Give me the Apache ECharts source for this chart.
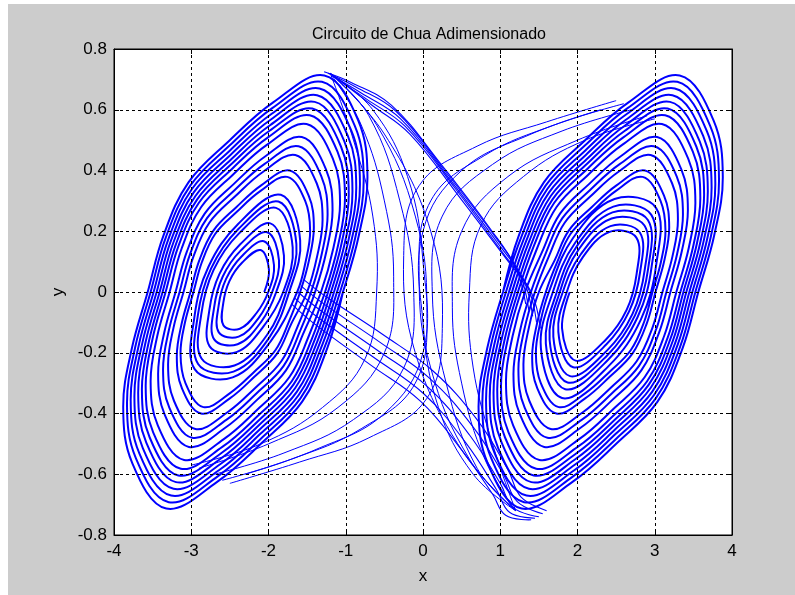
<!DOCTYPE html>
<html>
<head>
<meta charset="utf-8">
<script src="https://cdn.jsdelivr.net/npm/echarts@6/dist/echarts.min.js"></script>
<style>
html,body{margin:0;padding:0;background:#ffffff;}
#chart{width:795px;height:595px;}
</style>
</head>
<body>
<div id="chart"></div>
<script>
// ---- data ----
const titleText = 'Circuito de Chua Adimensionado';
const xRange = [-4, 4, 1];
const yRange = [-0.8, 0.8, 0.2];

// left scroll: successive turns of the spiral, inner to outer (x, y)
const leftLoops = [
 [[-2.055,0],[-1.994,0.073],[-2.102,0.138],[-2.340,0.097],[-2.506,0.036],[-2.585,-0.036],[-2.583,-0.110],[-2.371,-0.121],[-2.157,-0.070]],
 [[-2.003,0],[-1.929,0.089],[-2.060,0.167],[-2.349,0.117],[-2.549,0.043],[-2.645,-0.044],[-2.643,-0.133],[-2.386,-0.147],[-2.127,-0.085]],
 [[-1.952,0],[-1.864,0.104],[-2.018,0.197],[-2.357,0.137],[-2.592,0.051],[-2.705,-0.052],[-2.703,-0.156],[-2.400,-0.172],[-2.097,-0.099]],
 [[-1.900,0],[-1.800,0.120],[-1.976,0.226],[-2.366,0.157],[-2.636,0.059],[-2.765,-0.059],[-2.762,-0.179],[-2.415,-0.198],[-2.067,-0.114]],
 [[-1.810,0],[-1.687,0.147],[-1.903,0.277],[-2.381,0.193],[-2.712,0.072],[-2.870,-0.073],[-2.867,-0.219],[-2.441,-0.242],[-2.015,-0.140]],
 [[-1.771,0],[-1.639,0.158],[-1.872,0.298],[-2.387,0.208],[-2.744,0.077],[-2.915,-0.078],[-2.911,-0.237],[-2.453,-0.262],[-1.992,-0.151]],
 [[-1.732,0],[-1.590,0.170],[-1.841,0.320],[-2.393,0.224],[-2.777,0.083],[-2.960,-0.084],[-2.956,-0.254],[-2.464,-0.281],[-1.970,-0.162]],
 [[-1.629,0],[-1.520,0.099],[-1.461,0.201],[-1.525,0.300],[-1.757,0.379],[-2.107,0.332],[-2.410,0.264],[-2.691,0.191],[-2.863,0.098],[-2.971,0],[-3.080,-0.099],[-3.139,-0.201],[-3.075,-0.300],[-2.843,-0.379],[-2.493,-0.332],[-2.190,-0.264],[-1.909,-0.191],[-1.737,-0.098]],
 [[-1.590,0],[-1.475,0.105],[-1.413,0.212],[-1.480,0.317],[-1.726,0.400],[-2.095,0.351],[-2.417,0.279],[-2.713,0.202],[-2.896,0.104],[-3.010,0],[-3.125,-0.105],[-3.187,-0.212],[-3.120,-0.317],[-2.874,-0.400],[-2.505,-0.351],[-2.183,-0.279],[-1.887,-0.202],[-1.704,-0.104]],
 [[-1.500,0],[-1.370,0.118],[-1.300,0.239],[-1.376,0.358],[-1.653,0.451],[-2.069,0.396],[-2.431,0.315],[-2.766,0.228],[-2.971,0.117],[-3.100,0],[-3.230,-0.118],[-3.300,-0.239],[-3.224,-0.358],[-2.947,-0.451],[-2.531,-0.396],[-2.169,-0.315],[-1.834,-0.228],[-1.629,-0.117]],
 [[-1.449,0],[-1.310,0.126],[-1.235,0.255],[-1.316,0.381],[-1.611,0.480],[-2.054,0.421],[-2.440,0.335],[-2.796,0.243],[-3.015,0.125],[-3.151,0],[-3.290,-0.126],[-3.365,-0.255],[-3.284,-0.381],[-2.989,-0.480],[-2.546,-0.421],[-2.160,-0.335],[-1.804,-0.243],[-1.585,-0.125]],
 [[-1.397,0],[-1.250,0.134],[-1.171,0.270],[-1.256,0.404],[-1.569,0.510],[-2.040,0.447],[-2.448,0.356],[-2.826,0.258],[-3.058,0.132],[-3.203,0],[-3.350,-0.134],[-3.429,-0.270],[-3.344,-0.404],[-3.031,-0.510],[-2.560,-0.447],[-2.152,-0.356],[-1.774,-0.258],[-1.542,-0.132]],
 [[-1.320,0],[-1.160,0.145],[-1.074,0.293],[-1.167,0.439],[-1.507,0.553],[-2.017,0.485],[-2.461,0.386],[-2.871,0.280],[-3.123,0.144],[-3.280,0],[-3.440,-0.145],[-3.526,-0.293],[-3.433,-0.439],[-3.093,-0.553],[-2.583,-0.485],[-2.139,-0.386],[-1.729,-0.280],[-1.477,-0.144]],
 [[-1.268,0],[-1.100,0.153],[-1.010,0.309],[-1.107,0.462],[-1.465,0.582],[-2.002,0.510],[-2.470,0.406],[-2.901,0.294],[-3.166,0.151],[-3.332,0],[-3.500,-0.153],[-3.590,-0.309],[-3.493,-0.462],[-3.135,-0.582],[-2.598,-0.510],[-2.130,-0.406],[-1.699,-0.294],[-1.434,-0.151]],
 [[-1.229,0],[-1.055,0.159],[-0.961,0.320],[-1.062,0.479],[-1.433,0.604],[-1.991,0.530],[-2.476,0.422],[-2.923,0.305],[-3.199,0.157],[-3.371,0],[-3.545,-0.159],[-3.639,-0.320],[-3.538,-0.479],[-3.167,-0.604],[-2.609,-0.530],[-2.124,-0.422],[-1.677,-0.305],[-1.401,-0.157]],
 [[-1.191,0],[-1.010,0.164],[-0.913,0.332],[-1.018,0.496],[-1.402,0.626],[-1.980,0.549],[-2.482,0.437],[-2.946,0.316],[-3.231,0.163],[-3.409,0],[-3.590,-0.164],[-3.687,-0.332],[-3.582,-0.496],[-3.198,-0.626],[-2.620,-0.549],[-2.118,-0.437],[-1.654,-0.316],[-1.369,-0.163]],
 [[-1.152,0],[-0.965,0.170],[-0.864,0.344],[-0.973,0.514],[-1.371,0.648],[-1.969,0.568],[-2.489,0.452],[-2.968,0.328],[-3.264,0.168],[-3.448,0],[-3.635,-0.170],[-3.736,-0.344],[-3.627,-0.514],[-3.229,-0.648],[-2.631,-0.568],[-2.111,-0.452],[-1.632,-0.328],[-1.336,-0.168]],
 [[-1.113,0],[-0.920,0.176],[-0.816,0.355],[-0.928,0.531],[-1.340,0.670],[-1.958,0.587],[-2.495,0.467],[-2.991,0.339],[-3.296,0.174],[-3.487,0],[-3.680,-0.176],[-3.784,-0.355],[-3.672,-0.531],[-3.260,-0.670],[-2.642,-0.587],[-2.105,-0.467],[-1.609,-0.339],[-1.304,-0.174]],
 [[-1.074,0],[-0.875,0.181],[-0.768,0.367],[-0.884,0.548],[-1.308,0.692],[-1.947,0.606],[-2.501,0.483],[-3.013,0.350],[-3.329,0.180],[-3.526,0],[-3.725,-0.181],[-3.832,-0.367],[-3.716,-0.548],[-3.292,-0.692],[-2.653,-0.606],[-2.099,-0.483],[-1.587,-0.350],[-1.271,-0.180]],
 [[-1.036,0],[-0.830,0.187],[-0.719,0.378],[-0.839,0.565],[-1.277,0.713],[-1.935,0.625],[-2.508,0.498],[-3.036,0.361],[-3.361,0.185],[-3.564,0],[-3.770,-0.187],[-3.881,-0.378],[-3.761,-0.565],[-3.323,-0.713],[-2.665,-0.625],[-2.092,-0.498],[-1.564,-0.361],[-1.239,-0.185]]
];

// right scroll: successive turns of the spiral, inner to outer (x, y)
const rightLoops = [
 [[1.900,0],[1.800,-0.120],[1.976,-0.226],[2.366,-0.157],[2.636,-0.059],[2.765,0.059],[2.762,0.179],[2.415,0.198],[2.067,0.114]],
 [[1.861,0],[1.752,-0.131],[1.945,-0.248],[2.372,-0.173],[2.668,-0.064],[2.810,0.065],[2.807,0.196],[2.426,0.217],[2.045,0.125]],
 [[1.810,0],[1.687,-0.147],[1.903,-0.277],[2.381,-0.193],[2.712,-0.072],[2.870,0.073],[2.867,0.219],[2.441,0.242],[2.015,0.140]],
 [[1.771,0],[1.639,-0.158],[1.872,-0.298],[2.387,-0.208],[2.744,-0.077],[2.915,0.078],[2.911,0.237],[2.453,0.262],[1.992,0.151]],
 [[1.732,0],[1.590,-0.170],[1.841,-0.320],[2.393,-0.224],[2.777,-0.083],[2.960,0.084],[2.956,0.254],[2.464,0.281],[1.970,0.162]],
 [[1.681,0],[1.526,-0.185],[1.799,-0.349],[2.402,-0.244],[2.820,-0.091],[3.020,0.092],[3.016,0.277],[2.479,0.306],[1.940,0.177]],
 [[1.629,0],[1.520,-0.099],[1.461,-0.201],[1.525,-0.300],[1.757,-0.379],[2.107,-0.332],[2.410,-0.264],[2.691,-0.191],[2.863,-0.098],[2.971,0],[3.080,0.099],[3.139,0.201],[3.075,0.300],[2.843,0.379],[2.493,0.332],[2.190,0.264],[1.909,0.191],[1.737,0.098]],
 [[1.590,0],[1.475,-0.105],[1.413,-0.212],[1.480,-0.317],[1.726,-0.400],[2.095,-0.351],[2.417,-0.279],[2.713,-0.202],[2.896,-0.104],[3.010,0],[3.125,0.105],[3.187,0.212],[3.120,0.317],[2.874,0.400],[2.505,0.351],[2.183,0.279],[1.887,0.202],[1.704,0.104]],
 [[1.500,0],[1.370,-0.118],[1.300,-0.239],[1.376,-0.358],[1.653,-0.451],[2.069,-0.396],[2.431,-0.315],[2.766,-0.228],[2.971,-0.117],[3.100,0],[3.230,0.118],[3.300,0.239],[3.224,0.358],[2.947,0.451],[2.531,0.396],[2.169,0.315],[1.834,0.228],[1.629,0.117]],
 [[1.449,0],[1.310,-0.126],[1.235,-0.255],[1.316,-0.381],[1.611,-0.480],[2.054,-0.421],[2.440,-0.335],[2.796,-0.243],[3.015,-0.125],[3.151,0],[3.290,0.126],[3.365,0.255],[3.284,0.381],[2.989,0.480],[2.546,0.421],[2.160,0.335],[1.804,0.243],[1.585,0.125]],
 [[1.397,0],[1.250,-0.134],[1.171,-0.270],[1.256,-0.404],[1.569,-0.510],[2.040,-0.447],[2.448,-0.356],[2.826,-0.258],[3.058,-0.132],[3.203,0],[3.350,0.134],[3.429,0.270],[3.344,0.404],[3.031,0.510],[2.560,0.447],[2.152,0.356],[1.774,0.258],[1.542,0.132]],
 [[1.320,0],[1.160,-0.145],[1.074,-0.293],[1.167,-0.439],[1.507,-0.553],[2.017,-0.485],[2.461,-0.386],[2.871,-0.280],[3.123,-0.144],[3.280,0],[3.440,0.145],[3.526,0.293],[3.433,0.439],[3.093,0.553],[2.583,0.485],[2.139,0.386],[1.729,0.280],[1.477,0.144]],
 [[1.268,0],[1.100,-0.153],[1.010,-0.309],[1.107,-0.462],[1.465,-0.582],[2.002,-0.510],[2.470,-0.406],[2.901,-0.294],[3.166,-0.151],[3.332,0],[3.500,0.153],[3.590,0.309],[3.493,0.462],[3.135,0.582],[2.598,0.510],[2.130,0.406],[1.699,0.294],[1.434,0.151]],
 [[1.229,0],[1.055,-0.159],[0.961,-0.320],[1.062,-0.479],[1.433,-0.604],[1.991,-0.530],[2.476,-0.422],[2.923,-0.305],[3.199,-0.157],[3.371,0],[3.545,0.159],[3.639,0.320],[3.538,0.479],[3.167,0.604],[2.609,0.530],[2.124,0.422],[1.677,0.305],[1.401,0.157]],
 [[1.191,0],[1.010,-0.164],[0.913,-0.332],[1.018,-0.496],[1.402,-0.626],[1.980,-0.549],[2.482,-0.437],[2.946,-0.316],[3.231,-0.163],[3.409,0],[3.590,0.164],[3.687,0.332],[3.582,0.496],[3.198,0.626],[2.620,0.549],[2.118,0.437],[1.654,0.316],[1.369,0.163]],
 [[1.152,0],[0.965,-0.170],[0.864,-0.344],[0.973,-0.514],[1.371,-0.648],[1.969,-0.568],[2.489,-0.452],[2.968,-0.328],[3.264,-0.168],[3.448,0],[3.635,0.170],[3.736,0.344],[3.627,0.514],[3.229,0.648],[2.631,0.568],[2.111,0.452],[1.632,0.328],[1.336,0.168]],
 [[1.113,0],[0.920,-0.176],[0.816,-0.355],[0.928,-0.531],[1.340,-0.670],[1.958,-0.587],[2.495,-0.467],[2.991,-0.339],[3.296,-0.174],[3.487,0],[3.680,0.176],[3.784,0.355],[3.672,0.531],[3.260,0.670],[2.642,0.587],[2.105,0.467],[1.609,0.339],[1.304,0.174]],
 [[1.074,0],[0.875,-0.181],[0.768,-0.367],[0.884,-0.548],[1.308,-0.692],[1.947,-0.606],[2.501,-0.483],[3.013,-0.350],[3.329,-0.180],[3.526,0],[3.725,0.181],[3.832,0.367],[3.716,0.548],[3.292,0.692],[2.653,0.606],[2.099,0.483],[1.587,0.350],[1.271,0.180]],
 [[1.036,0],[0.830,-0.187],[0.719,-0.378],[0.839,-0.565],[1.277,-0.713],[1.935,-0.625],[2.508,-0.498],[3.036,-0.361],[3.361,-0.185],[3.564,0],[3.770,0.187],[3.881,0.378],[3.761,0.565],[3.323,0.713],[2.665,0.625],[2.092,0.498],[1.564,0.361],[1.239,0.185]]
];

// band leaving the top of the left scroll towards the right scroll
const bandTop = [
 [[-1.17,0.71],[-0.8,0.655],[-0.29,0.57],[0.35,0.37],[1.0,0.15],[1.3,0.04],[1.42,-0.08]],
 [[-1.23,0.72],[-0.87,0.675],[-0.35,0.595],[0.28,0.40],[0.94,0.18],[1.25,0.06],[1.37,-0.06]],
 [[-1.11,0.70],[-0.73,0.635],[-0.23,0.545],[0.42,0.34],[1.06,0.12],[1.35,0.02],[1.47,-0.10]],
 [[-1.28,0.725],[-0.93,0.69],[-0.41,0.615],[0.22,0.425],[0.88,0.205],[1.2,0.08],[1.33,-0.04]],
 [[-1.05,0.69],[-0.66,0.615],[-0.17,0.52],[0.48,0.31],[1.12,0.095],[1.4,0.0],[1.52,-0.12]]
];
// band leaving the right side of the left scroll towards the bottom of the right scroll
const bandLow = [
 [[-1.62,0.0],[-1.33,-0.06],[-0.6,-0.19],[0.05,-0.31],[0.6,-0.47],[1.0,-0.63],[1.17,-0.71],[1.5,-0.74]],
 [[-1.58,0.02],[-1.28,-0.04],[-0.56,-0.165],[0.09,-0.285],[0.65,-0.445],[1.05,-0.605],[1.22,-0.69],[1.55,-0.73]],
 [[-1.66,-0.02],[-1.38,-0.08],[-0.64,-0.215],[0.01,-0.335],[0.55,-0.495],[0.95,-0.65],[1.12,-0.725],[1.45,-0.745]],
 [[-1.54,0.04],[-1.23,-0.02],[-0.52,-0.14],[0.13,-0.26],[0.7,-0.42],[1.1,-0.585],[1.27,-0.675],[1.6,-0.72]],
 [[-1.70,-0.04],[-1.43,-0.10],[-0.68,-0.24],[-0.03,-0.36],[0.5,-0.52],[0.9,-0.665],[1.07,-0.735],[1.4,-0.75]]
];
// wide turns of the left scroll bulging into the middle
const fanLeft = [
 [[-1.2,0.72],[-0.7,0.58],[-0.3,0.3],[-0.12,0.0],[-0.25,-0.25],[-0.9,-0.42],[-1.8,-0.53],[-2.7,-0.6]],
 [[-1.2,0.72],[-0.6,0.55],[-0.1,0.25],[0.05,-0.05],[-0.1,-0.3],[-0.8,-0.45],[-1.7,-0.55],[-2.6,-0.62]],
 [[-1.2,0.72],[-0.8,0.55],[-0.5,0.3],[-0.38,0.05],[-0.5,-0.2],[-1.1,-0.38],[-2.0,-0.5],[-2.9,-0.58]],
 [[-1.2,0.72],[-0.5,0.52],[0.1,0.2],[0.25,-0.12],[0.05,-0.35],[-0.7,-0.48],[-1.6,-0.56],[-2.5,-0.63]],
 [[-1.2,0.72],[-0.9,0.5],[-0.65,0.25],[-0.6,0.0],[-0.75,-0.22],[-1.3,-0.38],[-2.1,-0.5],[-3.0,-0.57]],
 [[-1.2,0.72],[-0.65,0.6],[-0.2,0.38],[0.0,0.1],[0.0,-0.2],[-0.5,-0.4],[-1.4,-0.52],[-2.3,-0.6]]
];
// wide turns of the right scroll bulging into the middle
const fanRight = [
 [[1.2,-0.72],[0.7,-0.58],[0.3,-0.3],[0.12,0.0],[0.25,0.25],[0.9,0.42],[1.8,0.53],[2.7,0.6]],
 [[1.2,-0.72],[0.6,-0.55],[0.1,-0.25],[-0.05,0.05],[0.1,0.3],[0.8,0.45],[1.7,0.55],[2.6,0.62]],
 [[1.2,-0.72],[0.8,-0.55],[0.5,-0.3],[0.38,-0.05],[0.5,0.2],[1.1,0.38],[2.0,0.5],[2.9,0.58]],
 [[1.2,-0.72],[0.5,-0.52],[-0.1,-0.2],[-0.25,0.12],[-0.05,0.35],[0.7,0.48],[1.6,0.56],[2.5,0.63]],
 [[1.2,-0.72],[0.9,-0.5],[0.65,-0.25],[0.6,0.0],[0.75,0.22],[1.3,0.38],[2.1,0.5],[3.0,0.57]],
 [[1.2,-0.72],[0.65,-0.6],[0.2,-0.38],[0.0,-0.1],[0.0,0.2],[0.5,0.4],[1.4,0.52],[2.3,0.6]]
];

// ---- chart ----
const BLUE = '#0000ff';
function spiral(loops){
  const pts = [];
  loops.forEach(l => l.forEach(p => pts.push(p)));
  pts.push(loops[loops.length-1][0]);
  return pts;
}
const curves = [];
curves.push({pts: spiral(leftLoops), w: 2.0, s: 0.38});
curves.push({pts: spiral(rightLoops), w: 2.0, s: 0.38});
bandTop.forEach(c => curves.push({pts: c, w: 1.1, s: 0.4}));
bandLow.forEach(c => curves.push({pts: c, w: 1.1, s: 0.4}));
fanRight.forEach(c => curves.push({pts: c, w: 1, s: 0.4}));
fanLeft.forEach(c => curves.push({pts: c, w: 1, s: 0.4}));

const FONT = 'Arial, "Liberation Sans", Helvetica, sans-serif';
const chart = echarts.init(document.getElementById('chart'), null, {renderer:'canvas'});
chart.setOption({
  animation:false,
  backgroundColor:'#cccccc',
  title:{text:titleText, left:424, top:22, textAlign:'center',
    textStyle:{fontFamily:FONT, fontSize:16, fontWeight:'normal', color:'#000'}},
  grid:{left:114, right:63, top:49, bottom:60, show:true, backgroundColor:'#ffffff',
    borderColor:'#000', borderWidth:1},
  xAxis:[
    {type:'value', min:xRange[0], max:xRange[1], interval:xRange[2], position:'bottom', z:5,
     name:'x', nameLocation:'middle', nameGap:33,
     nameTextStyle:{fontFamily:FONT, fontSize:17, color:'#000'},
     axisLine:{show:true, onZero:false, lineStyle:{color:'#000', width:1}},
     axisTick:{show:true, inside:true, length:5, lineStyle:{color:'#000'}},
     axisLabel:{fontFamily:FONT, fontSize:17, color:'#000', margin:8},
     splitLine:{show:true, lineStyle:{color:'#000', type:[3,3], width:1}}},
    {type:'value', min:xRange[0], max:xRange[1], interval:xRange[2], position:'top', z:5,
     axisLine:{show:true, onZero:false, lineStyle:{color:'#000', width:1}},
     axisTick:{show:true, inside:true, length:5, lineStyle:{color:'#000'}},
     axisLabel:{show:false}, splitLine:{show:false}}
  ],
  yAxis:[
    {type:'value', min:yRange[0], max:yRange[1], interval:yRange[2], position:'left', z:5,
     name:'y', nameLocation:'middle', nameGap:45, nameRotate:90,
     nameTextStyle:{fontFamily:FONT, fontSize:17, color:'#000'},
     axisLine:{show:true, onZero:false, lineStyle:{color:'#000', width:1}},
     axisTick:{show:true, inside:true, length:5, lineStyle:{color:'#000'}},
     axisLabel:{fontFamily:FONT, fontSize:17, color:'#000', margin:7,
       formatter:v => String(Math.round(v*10)/10)},
     splitLine:{show:true, lineStyle:{color:'#000', type:[3,3], width:1}}},
    {type:'value', min:yRange[0], max:yRange[1], interval:yRange[2], position:'right', z:5,
     axisLine:{show:true, onZero:false, lineStyle:{color:'#000', width:1}},
     axisTick:{show:true, inside:true, length:5, lineStyle:{color:'#000'}},
     axisLabel:{show:false}, splitLine:{show:false}}
  ],
  graphic:[
    {type:'rect', left:0, top:0, shape:{width:8, height:595}, style:{fill:'#ffffff'}, silent:true},
    {type:'rect', left:0, top:0, shape:{width:795, height:4}, style:{fill:'#ffffff'}, silent:true}
  ],
  series:[{
    type:'custom',
    coordinateSystem:'cartesian2d',
    xAxisIndex:0, yAxisIndex:0,
    silent:true, animation:false, clip:true, z:2,
    data: curves.map((c, i) => [i]),
    encode:{x:[], y:[]},
    renderItem: function(params, api){
      const c = curves[params.dataIndex];
      const points = c.pts.map(p => api.coord(p));
      return {type:'polyline', shape:{points:points, smooth:c.s},
        style:{stroke:BLUE, lineWidth:c.w, fill:null}};
    }
  }]
});
</script>
</body>
</html>
